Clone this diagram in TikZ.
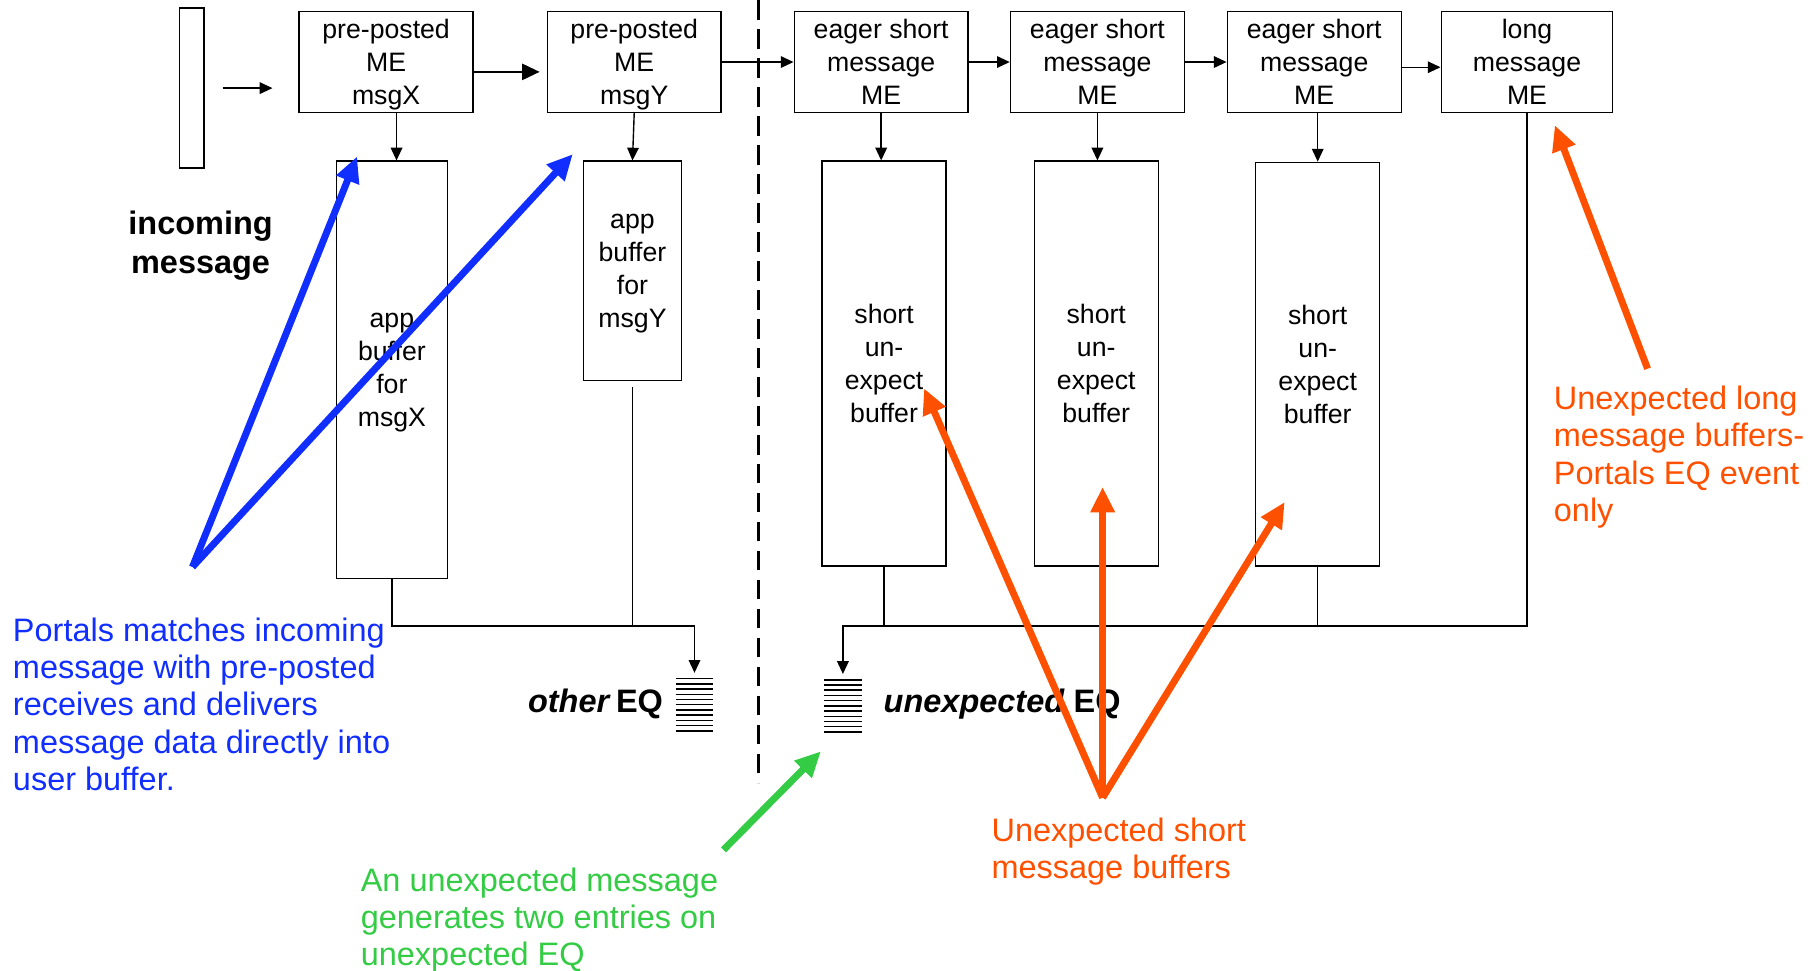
\documentclass[tikz,border=0pt]{standalone}
\usepackage{fontspec}
\setmainfont{Liberation Sans}
\usetikzlibrary{arrows.meta}

\definecolor{matchblue}{RGB}{16,46,255}
\definecolor{unexorange}{RGB}{255,80,0}
\definecolor{eqgreen}{RGB}{51,204,68}

\tikzset{
  mebox/.style={draw, line width=1.2pt, minimum width=150pt, minimum height=87pt,
    inner sep=0pt, align=center, font=\fontsize{23}{28.5}\selectfont},
  bufbox/.style={draw, line width=1.2pt, inner sep=0pt, align=center,
    font=\fontsize{23}{28.5}\selectfont},
  eqstack/.style={minimum width=32pt, minimum height=45pt, inner sep=0pt},
  plain/.style={line width=1.2pt},
  link/.style={line width=1.2pt, -{Triangle[length=11pt,width=10pt]}},
  biglink/.style={line width=1.4pt, -{Triangle[length=15pt,width=14pt]}},
  note/.style={anchor=north west, inner sep=0pt, align=left,
    font=\fontsize{28}{32}\selectfont},
  bigarrow/.style={line width=6pt, -{Triangle[length=22pt,width=20pt]}},
}

\begin{document}
\begin{tikzpicture}[x=1pt,y=-1pt]
\useasboundingbox (0,0) rectangle (1568,837);

\node[draw, line width=1.2pt, minimum width=21pt, minimum height=138pt, inner sep=0pt] (inbar) at (165.5,76) {};
\node[inner sep=0pt, align=center, font=\fontsize{28}{34}\selectfont\bfseries] (inlabel) at (173,212) {incoming\\message};
\coordinate (inA) at (192,76);
\coordinate (inB) at (235,76);
\draw[link] (inA) -- (inB);

\node[mebox, text depth=0pt] (ppx) at (333,53.5) {pre-posted\\ME\\msgX};
\node[mebox, text depth=0pt] (ppy) at (547,53.5) {pre-posted\\ME\\msgY};
\node[mebox] (eagA) at (760,53.5) {eager short\\message\\ME};
\node[mebox] (eagB) at (946.5,53.5) {eager short\\message\\ME};
\node[mebox] (eagC) at (1133.5,53.5) {eager short\\message\\ME};
\node[mebox, minimum width=148pt] (longme) at (1317,53.5) {long\\message\\ME};

\draw[biglink] ([yshift=-8.5pt]ppx.east) -- ([yshift=-8.5pt,xshift=-6pt]ppy.west);
\draw[link] (ppy.east) -- (eagA.west);
\draw[link] (eagA.east) -- (eagB.west);
\draw[link] (eagB.east) -- (eagC.west);
\draw[link] ([yshift=-4.5pt]eagC.east) -- ([yshift=-4.5pt]longme.west);

\node[bufbox, text depth=0pt, minimum width=96pt, minimum height=360pt] (bufx) at (338,319) {app\\buffer\\for\\msgX};
\node[bufbox, text depth=0pt, minimum width=85pt, minimum height=189pt] (bufy) at (545.5,233.5) {app\\buffer\\for\\msgY};
\node[bufbox, minimum width=107pt, minimum height=349pt] (shortA) at (762.5,313.5) {short\\un-\\expect\\buffer};
\node[bufbox, minimum width=107pt, minimum height=349pt] (shortB) at (945.5,313.5) {short\\un-\\expect\\buffer};
\node[bufbox, minimum width=107pt, minimum height=348pt] (shortC) at (1136.5,314) {short\\un-\\expect\\buffer};

\draw[link] (ppx.south -| 342,0) -- (bufx.north -| 342,0);
\draw[link] (ppy.south) -- (bufy.north);
\draw[link] (eagA.south) -- (eagA.south |- shortA.north);
\draw[link] (eagB.south) -- (eagB.south |- shortB.north);
\draw[link] (eagC.south -| shortC.north) -- (shortC.north);

\node[eqstack] (othereq) at (599,608) {};
\node[eqstack] (unexeq) at (727,609) {};
\foreach \q in {othereq,unexeq}
  \foreach \k in {0,...,10}
    \draw[line width=1.3pt] ([yshift=-\k*4.5pt]\q.north west) -- ([yshift=-\k*4.5pt]\q.north east);
\node[anchor=east, inner sep=0pt, font=\fontsize{28}{32}\selectfont\bfseries] (otherlabel) at (572,607) {\textit{other}\,EQ};
\node[anchor=west, inner sep=0pt, font=\fontsize{28}{32}\selectfont\bfseries] (unexlabel) at (762,607) {\textit{unexpected}\ EQ};

\coordinate (busy) at (0,540);
\draw[link] (bufx.south) -- (bufx.south |- busy) -| ([yshift=5pt]othereq.north);
\draw[plain] ([yshift=-5pt]bufy.south) -- (bufy.south |- busy);
\draw[link] (longme.south) -- (longme.south |- busy) -| ([yshift=5pt]unexeq.north);
\draw[plain] (shortA.south) -- (shortA.south |- busy);
\draw[plain] (shortC.south) -- (shortC.south |- busy);

\draw[line width=2.4pt, dash pattern=on 17pt off 8pt] (654,0) -- (654,675);

\coordinate (bluesrc) at (166,489);
\coordinate (bluetipX) at (308,135);
\coordinate (bluetipY) at (494,133);
\draw[bigarrow, matchblue] (bluesrc) -- (bluetipX);
\draw[bigarrow, matchblue] (bluesrc) -- (bluetipY);
\node[note, text=matchblue] (matchnote) at (11,533) {Portals matches incoming\\message with pre-posted\\receives and delivers\\message data directly into\\user buffer.};

\coordinate (greensrc) at (624,733);
\coordinate (greentip) at (708,648);
\draw[bigarrow, eqgreen] (greensrc) -- (greentip);
\node[note, text=eqgreen] (eqnote) at (311,748) {An unexpected message\\generates two entries on\\unexpected EQ};

\coordinate (orsrc) at (951,688);
\coordinate (ortipA) at (797,335);
\coordinate (ortipB) at (951,420);
\coordinate (ortipC) at (1108,433);
\draw[bigarrow, unexorange] (orsrc) -- (ortipA);
\draw[bigarrow, unexorange] (orsrc) -- (ortipB);
\draw[bigarrow, unexorange] (orsrc) -- (ortipC);
\node[note, text=unexorange] (shortnote) at (855,705) {Unexpected short\\message buffers};

\coordinate (longsrc) at (1421,318);
\coordinate (longtip) at (1341,108);
\draw[bigarrow, unexorange] (longsrc) -- (longtip);
\node[note, text=unexorange] (longnote) at (1340,333) {Unexpected long\\message buffers-\\Portals EQ event\\only};
\end{tikzpicture}
\end{document}
